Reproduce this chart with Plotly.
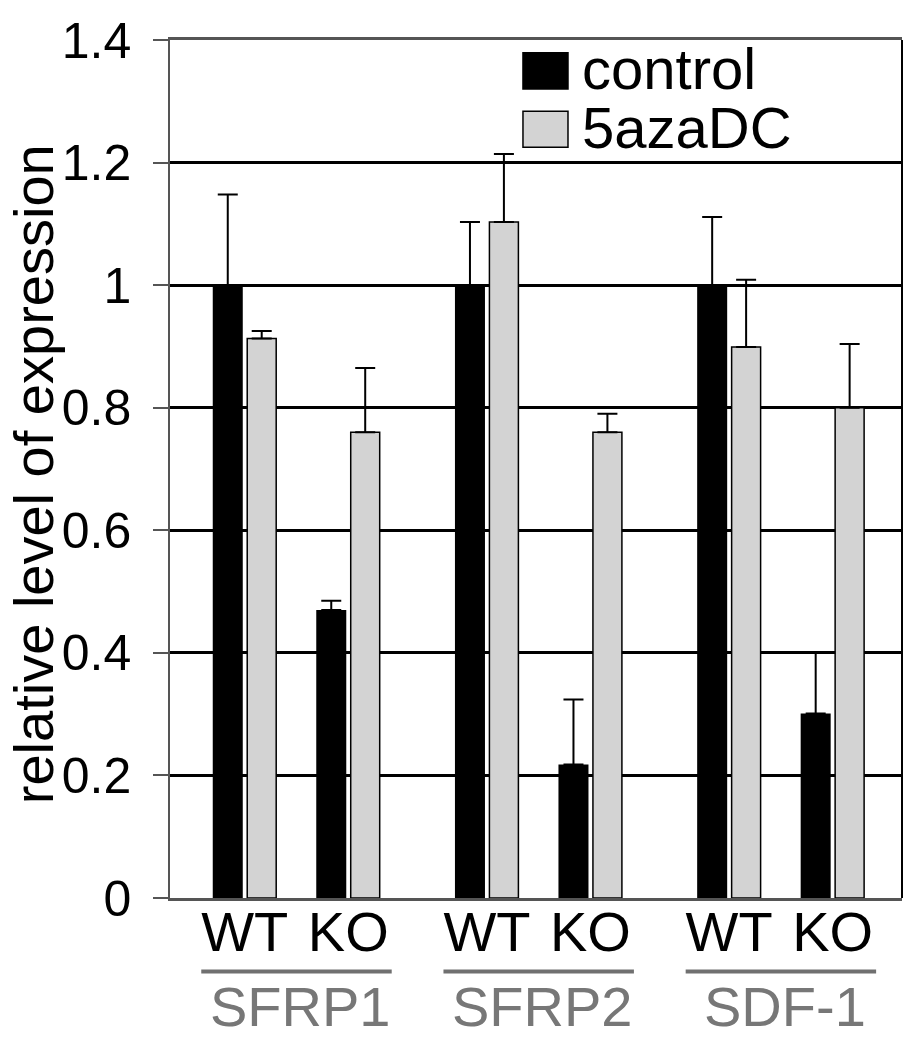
import plotly.graph_objects as go

# ---- data ----
genes = ["SFRP1", "SFRP2", "SDF-1"]
genotypes = ["WT", "KO"]
series_names = ["control", "5azaDC"]
control = [1.000, 0.470, 1.000, 0.218, 1.000, 0.301]
control_err = [0.148, 0.015, 0.103, 0.106, 0.111, 0.099]
aza = [0.913, 0.760, 1.103, 0.760, 0.899, 0.800]
aza_err = [0.012, 0.105, 0.111, 0.030, 0.110, 0.104]
y_ticks = [0, 0.2, 0.4, 0.6, 0.8, 1.0, 1.2, 1.4]
y_ticktext = ["0", "0.2", "0.4", "0.6", "0.8", "1", "1.2", "1.4"]
y_title = "relative level of expression"

# ---- layout constants ----
X0 = 1.222          # centre of first gene group (axis units)
GENE_STEP = 2.34    # distance between gene groups
PAIR_OFF = 0.5      # WT / KO offset from gene centre
BAR_OFF = 0.164     # control / 5aza offset from pair centre
X_RANGE = [0, 7.072]
FONT = "Liberation Sans, Arial, Helvetica, sans-serif"

gene_centres = [X0 + i * GENE_STEP for i in range(len(genes))]
pair_centres = []
pair_labels = []
for gc in gene_centres:
    for j, g in enumerate(genotypes):
        pair_centres.append(gc + (j - 0.5) * 2 * PAIR_OFF)
        pair_labels.append(g)

x_ctrl = [p - BAR_OFF for p in pair_centres]
x_aza = [p + BAR_OFF for p in pair_centres]

fig = go.Figure()
fig.add_trace(go.Bar(
    x=x_ctrl, y=control, width=0.29, name=series_names[0],
    marker=dict(color="black", line=dict(width=0)),
    error_y=dict(type="data", array=control_err, arrayminus=[0] * len(control),
                 symmetric=False, color="black", thickness=2, width=10),
    showlegend=False,
))
fig.add_trace(go.Bar(
    x=x_aza, y=aza, width=0.28, name=series_names[1],
    marker=dict(color="#d3d3d3", line=dict(color="black", width=1.5)),
    error_y=dict(type="data", array=aza_err, arrayminus=[0] * len(aza),
                 symmetric=False, color="black", thickness=2, width=10),
    showlegend=False,
))

shapes = []
annotations = []
# right border
shapes.append(dict(type="line", xref="paper", yref="paper", x0=1, x1=1, y0=0, y1=1,
                   line=dict(color="black", width=2)))
# gene underline + gene label
for gc, gname in zip(gene_centres, genes):
    shapes.append(dict(type="line", xref="x", yref="paper",
                       x0=gc - 0.92, x1=gc + 0.92, y0=-0.0857, y1=-0.0857,
                       line=dict(color="#707070", width=4)))
    annotations.append(dict(x=gc + 0.04, y=-0.1265, xref="x", yref="paper",
                            text=gname, showarrow=False, xanchor="center", yanchor="middle",
                            font=dict(family=FONT, size=56, color="#777777")))

# y-axis title
annotations.append(dict(x=-0.2309, y=0.4945, xref="paper", yref="paper", text=y_title,
                        textangle=-90, showarrow=False, xanchor="left", yanchor="middle",
                        borderpad=0,
                        font=dict(family=FONT, size=56, color="black")))

# legend (manual, to match large keys)
legend_items = [(series_names[0], "black", 0.985, 0.943, 0.967),
                (series_names[1], "#d3d3d3", 0.917, 0.875, 0.898)]
for name, col, ytop, ybot, ytxt in legend_items:
    shapes.append(dict(type="rect", xref="paper", yref="paper",
                       x0=0.4822, x1=0.5437, y0=ybot, y1=ytop,
                       fillcolor=col, line=dict(color="black", width=1.5)))
    annotations.append(dict(x=0.5601, y=ytxt, xref="paper", yref="paper", text=name,
                            showarrow=False, xanchor="left", yanchor="middle",
                            font=dict(family=FONT, size=58, color="black")))

fig.update_layout(
    width=921, height=1050,
    margin=dict(l=170, r=19, t=40, b=152),
    paper_bgcolor="white", plot_bgcolor="white",
    barmode="overlay",
    font=dict(family=FONT, color="black"),
    shapes=shapes, annotations=annotations,
    xaxis=dict(range=X_RANGE, tickvals=pair_centres, ticktext=pair_labels,
               tickfont=dict(size=56, color="black"), ticks="", showgrid=False,
               zeroline=False, showline=True, mirror=True, linecolor="#555555",
               linewidth=2.5, automargin=False, ticklabelstandoff=-17),
    yaxis=dict(range=[0, 1.4], tickvals=y_ticks, ticktext=y_ticktext,
               tickfont=dict(size=50, color="black"), ticks="outside", ticklen=15,
               tickcolor="#555555", tickwidth=1.5, ticklabelstandoff=12,
               showgrid=True, gridcolor="black", gridwidth=2.5, zeroline=False,
               showline=True, linecolor="#555555", linewidth=1.5, automargin=False),
)

# remove the page's default body margin so the figure sits at the window origin
fig.write_html("out.html",
               config={"displayModeBar": False},
               post_script="document.body.style.margin='0';document.body.style.overflow='hidden';")
